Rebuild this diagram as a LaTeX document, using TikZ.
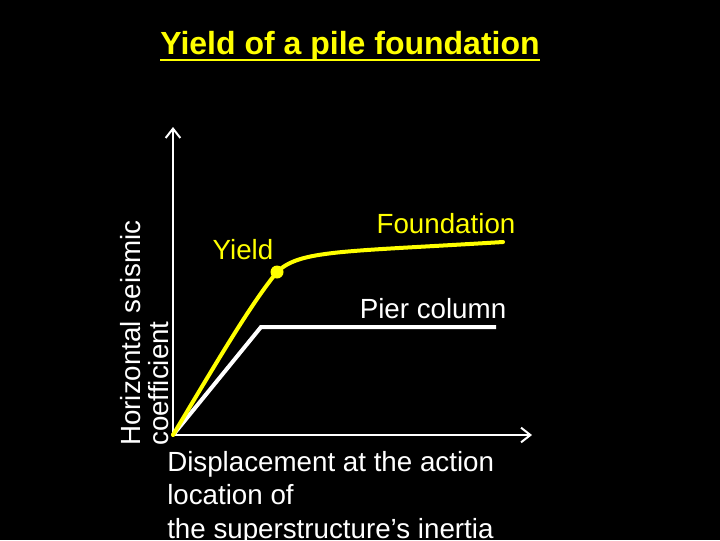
\documentclass[tikz,border=0pt]{standalone}
\usepackage{fontspec}
\setmainfont{Liberation Sans}
\usetikzlibrary{arrows.meta}
\definecolor{ylw}{RGB}{255,255,0}
\begin{document}
\begin{tikzpicture}[x=0.75pt,y=-0.75pt,
  lbl/.style={font=\fontsize{20.8pt}{25pt}\selectfont, inner sep=0pt},
  axis/.style={white, line width=2.2pt, -{Straight Barb[length=7pt,width=11pt,line width=1.5pt]}},
  ycurve/.style={ylw, line width=3pt, line cap=round},
  wcurve/.style={white, line width=3pt}]
\fill[black] (0,0) rectangle (720,540);
\useasboundingbox (0,0) rectangle (720,540);
% title
\node[lbl, text=ylw, font=\fontsize{24pt}{28pt}\selectfont\bfseries, anchor=base] (title) at (350,54) {Yield of a pile foundation};
\draw[ylw, line width=1.6pt] ([yshift=-4.5pt]title.base west) -- ([yshift=-4.5pt]title.base east);
% axes
\coordinate (o) at (173,435);
\coordinate (ytip) at (173,127);
\coordinate (xtip) at (532,435);
\draw[axis] (o) -- (ytip);
\draw[axis] (o) -- (xtip);
% pier column
\coordinate (pk) at (261,327);
\coordinate (pe) at (496,327);
\draw[wcurve] (o) -- (pk) -- (pe);
% foundation
\coordinate (yp) at (277,272);
\coordinate (fe) at (503,242);
\draw[ycurve] (o) .. controls (215,365) and (250,305) .. (yp)
  .. controls (300,250) and (340,252) .. (fe);
\fill[ylw] (yp) circle (6.5);
% labels
\node[lbl, text=ylw, anchor=center] (ylab) at (243,250) {Yield};
\node[lbl, text=ylw, anchor=center] (flab) at (446,224) {Foundation};
\node[lbl, text=white, anchor=center] (plab) at (433,309) {Pier column};
\node[lbl, text=white, rotate=90, anchor=west] (ax1) at (131,446) {Horizontal seismic};
\node[lbl, text=white, rotate=90, anchor=west] (ax2) at (159,446) {coefficient};
\node[lbl, text=white, anchor=north west, align=left] (xlab) at (167,451) {Displacement at the action\\location of\\the superstructure’s inertia};
\end{tikzpicture}
\end{document}
